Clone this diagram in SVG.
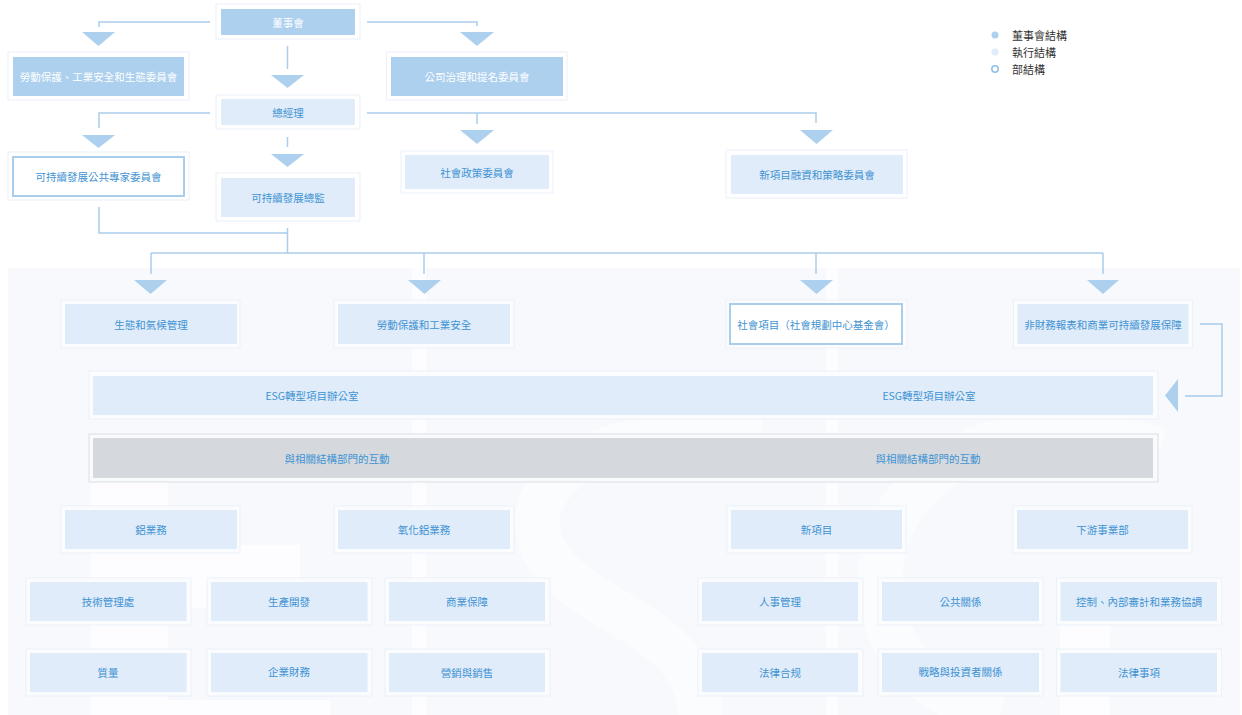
<svg xmlns="http://www.w3.org/2000/svg" width="1242" height="715" viewBox="0 0 1242 715">
<style>
.outer{fill:#ffffff;stroke:#e9f1fa;stroke-width:1}
.outerp{fill:#fbfcfe;stroke:#ebf1f9;stroke-width:1}
.board{fill:#acd0ee}
.exec{fill:#e0ecf9}
.dept{fill:#ffffff;stroke:#a9cdeb;stroke-width:2}
.grayb{fill:#d5d9dd}
.t{font-family:"Noto Sans CJK TC","Noto Sans CJK SC",sans-serif;font-size:10.5px;fill:#3f93d3;text-anchor:middle;dominant-baseline:central}
.tw{fill:#ffffff}
.lg{font-family:"Noto Sans CJK TC","Noto Sans CJK SC",sans-serif;font-size:11px;fill:#333333;dominant-baseline:central}
.con{stroke:#a9cdeb;stroke-width:1.5;fill:none}
.arr{fill:#acd0ee}
.wm{fill:#ffffff;opacity:0.7}
</style>
<rect x="0" y="0" width="1242" height="715" fill="#ffffff"/>
<rect x="8" y="268" width="1232" height="447" fill="#f7f9fd"/>
<g id="watermark">
<rect class="wm" x="412" y="268" width="14" height="447"/>
<rect class="wm" x="826" y="268" width="12" height="447"/>
<rect class="wm" x="91" y="482" width="77" height="233"/>
<rect class="wm" x="168" y="545" width="132" height="63"/>
<rect class="wm" x="168" y="700" width="162" height="15"/>
<path class="wm" d="M1060 580 h50 v135 h-50 z"/>
<path d="M760 440 C620 420 520 470 540 540 C560 610 700 620 700 715" fill="none" stroke="#ffffff" stroke-width="45" opacity="0.45"/>
<path d="M1160 450 C1010 400 880 470 880 580 C880 660 940 700 1000 715" fill="none" stroke="#ffffff" stroke-width="45" opacity="0.45"/>
</g>
<g id="connectors">
<polyline class="con" points="210,22 99,22 99,27"/>
<polygon class="arr" points="82,32 115,32 98.5,46"/>
<polyline class="con" points="367,22 477,22 477,26"/>
<polygon class="arr" points="460,32 494,32 477,46"/>
<line class="con" x1="287.5" y1="46" x2="287.5" y2="69"/>
<polygon class="arr" points="271,75 304,75 287.5,88"/>
<polyline class="con" points="210,113 99,113 99,128"/>
<polygon class="arr" points="82,135 115,135 98.5,148"/>
<polyline class="con" points="367,113 816,113 816,123"/>
<line class="con" x1="477" y1="113" x2="477" y2="124"/>
<polygon class="arr" points="460,130 494,130 477,144"/>
<polygon class="arr" points="800,130 833,130 816.5,144"/>
<line class="con" x1="287.5" y1="137" x2="287.5" y2="147"/>
<polygon class="arr" points="271,154 304,154 287.5,167"/>
<polyline class="con" points="99,207 99,233 287.5,233"/>
<line class="con" x1="287.5" y1="228" x2="287.5" y2="253"/>
<line class="con" x1="151" y1="253" x2="1103" y2="253"/>
<line class="con" x1="151" y1="253" x2="151" y2="274"/>
<line class="con" x1="424" y1="253" x2="424" y2="274"/>
<line class="con" x1="816" y1="253" x2="816" y2="274"/>
<line class="con" x1="1103" y1="253" x2="1103" y2="274"/>
<polygon class="arr" points="134,280 167,280 150.5,294"/>
<polygon class="arr" points="408,280 441,280 424.5,294"/>
<polygon class="arr" points="800,280 833,280 816.5,294"/>
<polygon class="arr" points="1087,280 1119,280 1103,294"/>
<polyline class="con" points="1200,324 1222,324 1222,396 1185,396"/>
<polygon class="arr" points="1178,379 1178,412 1165,395.5"/>
</g>
<g id="legend">
<circle cx="995" cy="35" r="3.5" fill="#acd0ee"/>
<text class="lg" x="1012" y="35">董事會結構</text>
<circle cx="995" cy="52" r="3.5" fill="#e0ecf9"/>
<text class="lg" x="1012" y="52">執行結構</text>
<circle cx="995" cy="69" r="3.2" fill="#ffffff" stroke="#8fc0ea" stroke-width="1.5"/>
<text class="lg" x="1012" y="69">部結構</text>
</g>
<g id="n-board"><rect class="outer" x="216" y="4" width="144" height="35"/><rect class="board" x="221" y="9" width="134" height="26"/><text class="t tw" x="288" y="22">董事會</text></g>
<g id="n-labour-committee"><rect class="outer" x="8" y="52" width="181" height="48"/><rect class="board" x="13" y="57" width="171" height="39"/><text class="t tw" x="98.5" y="76.5">勞動保護、工業安全和生態委員會</text></g>
<g id="n-governance"><rect class="outer" x="386.5" y="52" width="180.5" height="48"/><rect class="board" x="391" y="57" width="172" height="39"/><text class="t tw" x="477" y="76.5">公司治理和提名委員會</text></g>
<g id="n-ceo"><rect class="outer" x="216" y="95" width="144" height="34"/><rect class="exec" x="221" y="99" width="134" height="26"/><text class="t" x="288" y="112">總經理</text></g>
<g id="n-expert"><rect class="outer" x="8" y="152" width="181" height="48"/><rect class="dept" x="13" y="157" width="171" height="39"/><text class="t" x="98.5" y="176.5">可持續發展公共專家委員會</text></g>
<g id="n-director"><rect class="outer" x="216" y="173" width="144" height="48"/><rect class="exec" x="221" y="178" width="134" height="39"/><text class="t" x="288" y="197.5">可持續發展總監</text></g>
<g id="n-social-policy"><rect class="outer" x="401" y="151" width="152" height="42"/><rect class="exec" x="405" y="155" width="144" height="34"/><text class="t" x="477" y="172">社會政策委員會</text></g>
<g id="n-newproj-fin"><rect class="outer" x="726" y="150" width="181" height="48"/><rect class="exec" x="731" y="155" width="172" height="39"/><text class="t" x="817" y="174.5">新項目融資和策略委員會</text></g>
<g id="n-eco"><rect class="outerp" x="61" y="300" width="179" height="48"/><rect class="exec" x="65" y="304" width="172" height="40"/><text class="t" x="151" y="324">生態和氣候管理</text></g>
<g id="n-labour"><rect class="outerp" x="334" y="300" width="180" height="48"/><rect class="exec" x="338" y="304" width="172" height="40"/><text class="t" x="424" y="324">勞動保護和工業安全</text></g>
<g id="n-social-proj"><rect class="outerp" x="726" y="300" width="181" height="48"/><rect class="dept" x="730" y="304" width="172" height="40"/><text class="t" x="816" y="324">社會項目（社會規劃中心基金會）</text></g>
<g id="n-nonfin"><rect class="outerp" x="1013.5" y="300" width="179" height="48"/><rect class="exec" x="1017.5" y="304" width="171" height="40"/><text class="t" x="1103" y="324">非財務報表和商業可持續發展保障</text></g>
<g id="n-esg"><rect class="outerp" x="89" y="371" width="1069" height="48"/><rect class="exec" x="93" y="376" width="1060" height="39"/><text class="t" x="312" y="395.5">ESG轉型項目辦公室</text><text class="t" x="929" y="395.5">ESG轉型項目辦公室</text></g>
<g id="n-interaction"><rect x="89" y="434" width="1069" height="48" fill="#f9fafc" stroke="#d9dee3" stroke-width="1"/><rect class="grayb" x="93" y="438" width="1060" height="40"/><text class="t" x="337" y="458">與相關結構部門的互動</text><text class="t" x="928" y="458">與相關結構部門的互動</text></g>
<g id="n-aluminium"><rect class="outerp" x="61" y="506" width="179" height="47"/><rect class="exec" x="65" y="510" width="172" height="39"/><text class="t" x="151" y="529.5">鋁業務</text></g>
<g id="n-alumina"><rect class="outerp" x="334" y="506" width="180" height="47"/><rect class="exec" x="338" y="510" width="172" height="39"/><text class="t" x="424" y="529.5">氧化鋁業務</text></g>
<g id="n-newproj"><rect class="outerp" x="727" y="506" width="179" height="47"/><rect class="exec" x="731" y="510" width="171" height="39"/><text class="t" x="816.5" y="529.5">新項目</text></g>
<g id="n-downstream"><rect class="outerp" x="1013" y="506" width="179" height="47"/><rect class="exec" x="1017" y="510" width="171" height="39"/><text class="t" x="1102.5" y="529.5">下游事業部</text></g>
<g id="n-tech"><rect class="outerp" x="26" y="578" width="165" height="47"/><rect class="exec" x="30" y="582" width="156.5" height="39"/><text class="t" x="108" y="601.5">技術管理處</text></g>
<g id="n-proddev"><rect class="outerp" x="207" y="578" width="165" height="47"/><rect class="exec" x="211" y="582" width="156.5" height="39"/><text class="t" x="289" y="601.5">生產開發</text></g>
<g id="n-commercial"><rect class="outerp" x="385" y="578" width="165" height="47"/><rect class="exec" x="389" y="582" width="156" height="39"/><text class="t" x="467" y="601.5">商業保障</text></g>
<g id="n-hr"><rect class="outerp" x="698" y="578" width="165" height="47"/><rect class="exec" x="702" y="582" width="156" height="39"/><text class="t" x="780" y="601.5">人事管理</text></g>
<g id="n-pr"><rect class="outerp" x="878" y="578" width="165" height="47"/><rect class="exec" x="882" y="582" width="157" height="39"/><text class="t" x="960.5" y="601.5">公共關係</text></g>
<g id="n-control"><rect class="outerp" x="1056.5" y="578" width="165" height="47"/><rect class="exec" x="1060.5" y="582" width="156.5" height="39"/><text class="t" x="1139" y="601.5">控制、內部審計和業務協調</text></g>
<g id="n-quality"><rect class="outerp" x="26" y="649" width="165" height="47"/><rect class="exec" x="30" y="653" width="156.5" height="39"/><text class="t" x="108" y="672.5">質量</text></g>
<g id="n-finance"><rect class="outerp" x="207" y="649" width="165" height="47"/><rect class="exec" x="211" y="653" width="156.5" height="39"/><text class="t" x="289" y="671">企業財務</text></g>
<g id="n-marketing"><rect class="outerp" x="385" y="649" width="165" height="47"/><rect class="exec" x="389" y="653" width="156" height="39"/><text class="t" x="467" y="672.5">營銷與銷售</text></g>
<g id="n-legal-comp"><rect class="outerp" x="698" y="649" width="165" height="47"/><rect class="exec" x="702" y="653" width="156" height="39"/><text class="t" x="780" y="672.5">法律合规</text></g>
<g id="n-strategy"><rect class="outerp" x="878" y="649" width="165" height="47"/><rect class="exec" x="882" y="653" width="157" height="39"/><text class="t" x="960.5" y="671">戰略與投資者關係</text></g>
<g id="n-legal"><rect class="outerp" x="1056.5" y="649" width="165" height="47"/><rect class="exec" x="1060.5" y="653" width="156.5" height="39"/><text class="t" x="1139" y="672.5">法律事項</text></g>
</svg>
